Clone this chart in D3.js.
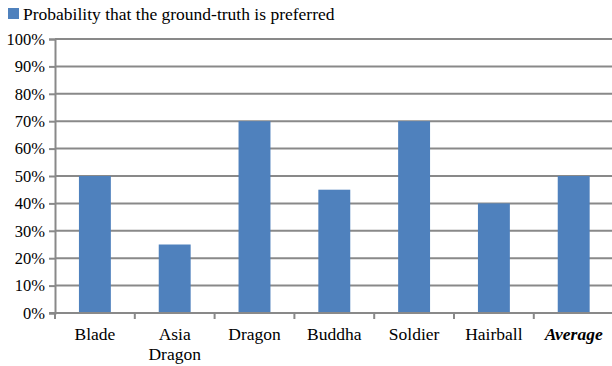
<!DOCTYPE html>
<html>
<head>
<meta charset="utf-8">
<script src="https://cdn.jsdelivr.net/npm/d3@7"></script>
<style>
  body { margin: 0; background: #fff; }
</style>
</head>
<body>
<div id="chart"></div>
<script>
// Data for the chart
const categories = ["Blade", "Asia Dragon", "Dragon", "Buddha", "Soldier", "Hairball", "Average"];
const values = [0.50, 0.25, 0.70, 0.45, 0.70, 0.40, 0.50];
const yTicks = [0, 0.1, 0.2, 0.3, 0.4, 0.5, 0.6, 0.7, 0.8, 0.9, 1.0];
const seriesName = "Probability that the ground-truth is preferred";

const FONT = "'Liberation Serif', 'Times New Roman', serif";
const W = 612, H = 366;
const margin = { top: 39, left: 55, bottom: 53 };
const plotW = 7 * 79.8;
const plotH = H - margin.top - margin.bottom;

const svg = d3.select("#chart")
    .append("svg")
    .attr("width", W)
    .attr("height", H);

// Scales
const x = d3.scaleBand()
    .domain(categories)
    .range([margin.left, margin.left + plotW]);

const y = d3.scaleLinear()
    .domain([0, 1])
    .range([margin.top + plotH, margin.top]);

// Gridlines
svg.append("g")
    .selectAll("line")
    .data(yTicks)
    .enter()
    .append("line")
    .attr("x1", margin.left)
    .attr("x2", margin.left + plotW)
    .attr("y1", d => y(d))
    .attr("y2", d => y(d))
    .attr("stroke", "#898989")
    .attr("stroke-width", 2);

// Bars
const barW = x.bandwidth() * 0.4;
svg.selectAll(".bar")
    .data(values)
    .enter()
    .append("rect")
    .attr("class", "bar")
    .attr("x", (d, i) => x(categories[i]) + (x.bandwidth() - barW) / 2)
    .attr("y", d => y(d))
    .attr("width", barW)
    .attr("height", d => y(0) - y(d))
    .style("fill", "#4F81BD");

// Y axis
const yAxis = svg.append("g")
    .attr("transform", `translate(${margin.left},0)`)
    .call(d3.axisLeft(y).tickValues(yTicks).tickFormat(d3.format(".0%")).tickSize(6).tickPadding(4));
yAxis.attr("font-family", null).attr("font-size", null);
yAxis.selectAll("path, line").attr("stroke", "#898989").attr("stroke-width", 2);
yAxis.selectAll("text")
    .style("font-family", FONT)
    .style("font-size", "16.5px")
    .style("fill", "#000");

// X axis (ticks at category boundaries)
const xAxis = svg.append("g");
xAxis.append("line")
    .attr("x1", margin.left - 6)
    .attr("x2", margin.left + plotW)
    .attr("y1", y(0))
    .attr("y2", y(0))
    .attr("stroke", "#898989")
    .attr("stroke-width", 2);
xAxis.selectAll(".xtick")
    .data(categories)
    .enter()
    .append("line")
    .attr("x1", d => x(d))
    .attr("x2", d => x(d))
    .attr("y1", y(0))
    .attr("y2", y(0) + 6)
    .attr("stroke", "#898989")
    .attr("stroke-width", 2);

const xLabels = xAxis.selectAll(".xlabel")
    .data(categories)
    .enter()
    .append("text")
    .attr("class", "xlabel")
    .attr("x", d => x(d) + x.bandwidth() / 2)
    .attr("y", y(0) + 27)
    .attr("text-anchor", "middle")
    .style("font-family", FONT)
    .style("font-size", "17.5px")
    .style("font-weight", d => d === "Average" ? "bold" : "normal")
    .style("font-style", d => d === "Average" ? "italic" : "normal");
xLabels.each(function(d) {
    const words = d === "Asia Dragon" ? ["Asia", "Dragon"] : [d];
    d3.select(this).selectAll("tspan")
        .data(words)
        .enter()
        .append("tspan")
        .attr("x", x(d) + x.bandwidth() / 2)
        .attr("dy", (w, i) => i === 0 ? 0 : 20)
        .text(w => w);
});

// Legend
const legend = svg.append("g");
legend.append("rect")
    .attr("x", 8)
    .attr("y", 8)
    .attr("width", 11)
    .attr("height", 11)
    .style("fill", "#4F81BD");
legend.append("text")
    .attr("x", 23)
    .attr("y", 20)
    .style("font-family", FONT)
    .style("font-size", "17.5px")
    .text(seriesName);
</script>
</body>
</html>
